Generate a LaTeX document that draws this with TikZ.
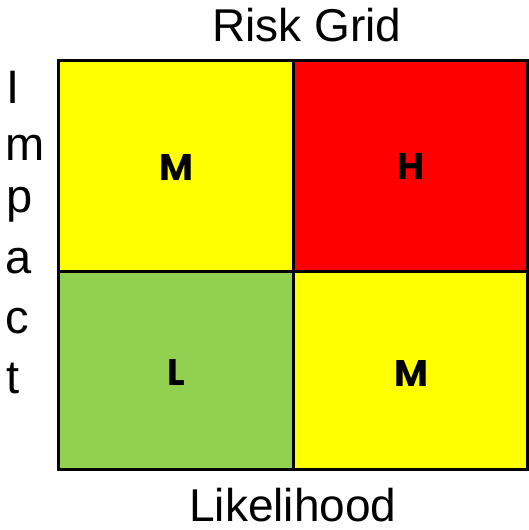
\documentclass[tikz,border=0pt]{standalone}
\usepackage{fontspec}
\setmainfont{Liberation Sans}
\newfontfamily\cellfont{Poppins}
\definecolor{riskyellow}{HTML}{FFFF00}
\definecolor{riskred}{HTML}{FF0000}
\definecolor{riskgreen}{HTML}{92D050}
\begin{document}
\begin{tikzpicture}[x=1pt,y=-1pt,
  cellbox/.style={draw=black,line width=3pt},
  celltext/.style={font=\cellfont\bfseries\fontsize{37}{37}\selectfont,anchor=base,inner sep=0pt},
  bigtext/.style={font=\fontsize{46}{46}\selectfont,inner sep=0pt},
  axisletter/.style={font=\fontsize{47}{47}\selectfont,anchor=base west,inner sep=0pt}]
\useasboundingbox (0,0) rectangle (529,530);
% cells
\path[cellbox,fill=riskyellow] (58,60) rectangle (293,271);
\path[cellbox,fill=riskred] (293,60) rectangle (527,271);
\path[cellbox,fill=riskgreen] (58,271) rectangle (293,469);
\path[cellbox,fill=riskyellow] (293,271) rectangle (527,469);
\draw[line width=3pt] (58,60) rectangle (527,469);
% cell labels
\node[celltext] (m1) at (176,180) {M};
\node[celltext] (h) at (411,179) {H};
\node[celltext] (l) at (176,385) {L};
\node[celltext] (m2) at (411,386) {M};
% title and axes
\node[bigtext,anchor=base] (title) at (307,41) {Risk Grid};
\node[bigtext,anchor=base] (xlab) at (293,521) {Likelihood};
\node[axisletter] (i1) at (6,103) {I};
\node[axisletter] (i2) at (5,160) {m};
\node[axisletter] (i3) at (6,212) {p};
\node[axisletter] (i4) at (5,273) {a};
\node[axisletter] (i5) at (5,333) {c};
\node[axisletter] (i6) at (6,393) {t};
\end{tikzpicture}
\end{document}
